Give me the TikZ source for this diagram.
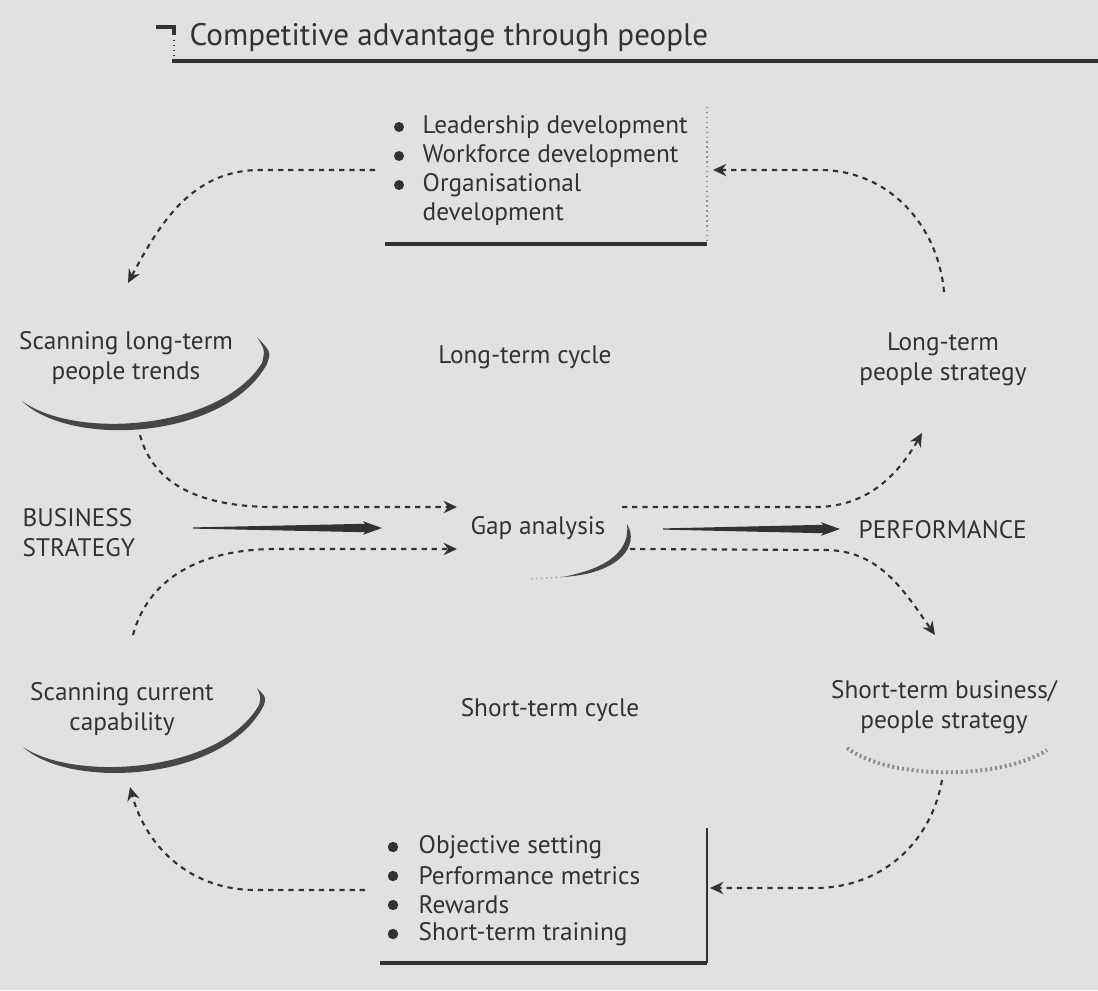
\documentclass[tikz,border=0pt]{standalone}
\usepackage{fontspec}
\setmainfont{PT Sans}
\usetikzlibrary{arrows.meta,calc}

\definecolor{paper}{RGB}{225,225,223}
\definecolor{ink}{RGB}{50,50,50}

\tikzset{
  label text/.style={font=\fontsize{7.2}{8.6}\selectfont, text=ink, align=center, inner sep=0pt},
  item/.style={label text, anchor=west},
  cycle line/.style={ink, line width=0.6pt, dash pattern=on 1.5pt off 1.4pt,
    -{Stealth[length=3.8pt,width=3.5pt]}},
}

% tapered arrow between two points on one level
\newcommand{\fatarrow}[2]{%
  \fill[ink] ($(#1)+(0,0.006)$) -- ($(#2)+(-0.17,0.042)$) -- ($(#2)+(-0.19,0.068)$)
    -- (#2) -- ($(#2)+(-0.19,-0.068)$) -- ($(#2)+(-0.17,-0.042)$)
    -- ($(#1)+(0,-0.006)$) -- cycle;}

\begin{document}
\begin{tikzpicture}
\fill[paper] (0,0) rectangle (10.98,-9.90);
\useasboundingbox (0,0) rectangle (10.98,-9.90);

% heading
\node[item, font=\fontsize{8.85}{10}\selectfont] (title) at (1.89,-0.38) {Competitive advantage through people};
\draw[ink, line width=1pt] (1.56,-0.27) -- (1.74,-0.27) -- (1.74,-0.35);
\draw[ink, densely dotted] (1.74,-0.40) -- (1.74,-0.56);
\draw[ink, line width=0.9pt] (1.72,-0.61) -- (10.98,-0.61);

% long-term actions
\foreach \y/\txt [count=\i] in {1.27/Leadership development, 1.56/Workforce development, 1.85/Organisational}{
  \fill[ink] (3.99,-\y) circle (0.05);
  \node[item] (lt\i) at (4.22,-\y) {\txt};
}
\node[item] (lt4) at (4.22,-2.14) {development};
\draw[ink, line width=1pt] (3.85,-2.44) -- (7.07,-2.44);
\draw[ink!55, densely dotted] (7.07,-1.07) -- (7.07,-2.42);

% short-term actions
\foreach \y/\txt [count=\i] in {8.47/Objective setting, 8.76/Performance metrics, 9.05/Rewards, 9.34/Short-term training}{
  \fill[ink] (3.93,-\y) circle (0.052);
  \node[item] (st\i) at (4.18,-\y) {\txt};
}
\draw[ink, line width=1pt] (3.80,-9.63) -- (7.07,-9.63);
\draw[ink, line width=0.7pt] (7.07,-9.63) -- (7.07,-8.28);

% stages of the two cycles
\node[label text] (scanlong) at (1.26,-3.58) {Scanning long-term\\people trends};
\node[label text] (longcycle) at (5.25,-3.57) {Long-term cycle};
\node[label text] (longstrat) at (9.43,-3.59) {Long-term\\people strategy};
\node[label text, align=left, anchor=west] (bizstrat) at (0.22,-5.33) {BUSINESS\\STRATEGY};
\node[label text] (gap) at (5.38,-5.28) {Gap analysis};
\node[item] (perf) at (8.58,-5.30) {PERFORMANCE};
\node[label text] (scancur) at (1.22,-7.09) {Scanning current\\capability};
\node[label text] (shortcycle) at (5.50,-7.10) {Short-term cycle};
\node[label text] (shortstrat) at (9.44,-7.07) {Short-term business/\\people strategy};

% brush strokes under the stages
\fill[ink!90] (0.22,-4.01) .. controls (0.70,-4.48) and (2.25,-4.40) .. (2.67,-3.64)
  .. controls (2.71,-3.52) .. (2.57,-3.37) .. controls (2.65,-3.50) .. (2.62,-3.63)
  .. controls (2.20,-4.30) and (0.75,-4.40) .. cycle;
\fill[ink!90] (0.23,-7.47) .. controls (0.70,-7.90) and (2.25,-7.82) .. (2.64,-7.05)
  .. controls (2.66,-6.97) .. (2.57,-6.88) .. controls (2.61,-6.97) .. (2.59,-7.05)
  .. controls (2.20,-7.73) and (0.75,-7.82) .. cycle;
\fill[ink!90] (6.27,-5.24) .. controls (6.40,-5.45) and (6.20,-5.74) .. (5.62,-5.77)
  .. controls (6.12,-5.68) and (6.30,-5.48) .. cycle;
\draw[ink!45, densely dotted] (5.62,-5.77) -- (5.28,-5.79);
\draw[ink!55, line width=1.1pt, dash pattern=on 0.6pt off 0.8pt]
  (8.47,-7.48) .. controls (8.9,-7.80) and (10.0,-7.80) .. (10.47,-7.50);

% connector ends
\coordinate (ltout) at (3.75,-1.70);
\coordinate (ltin) at (7.13,-1.70);
\coordinate (scanlongin) at (1.28,-2.83);
\coordinate (scanlongout) at (1.40,-4.35);
\coordinate (longstratin) at (9.22,-4.33);
\coordinate (longstratout) at (9.44,-2.92);
\coordinate (gapinup) at (4.57,-5.07);
\coordinate (gapinlow) at (4.57,-5.49);
\coordinate (gapoutup) at (6.22,-5.07);
\coordinate (gapoutlow) at (6.30,-5.49);
\coordinate (scancurin) at (1.30,-7.87);
\coordinate (scancurout) at (1.33,-6.35);
\coordinate (shortstratin) at (9.35,-6.35);
\coordinate (shortstratout) at (9.42,-7.80);
\coordinate (stin) at (7.10,-8.88);
\coordinate (stout) at (3.65,-8.90);
\coordinate (bizout) at (1.93,-5.28);
\coordinate (gapin) at (3.82,-5.28);
\coordinate (gapout) at (6.63,-5.29);
\coordinate (perfin) at (8.40,-5.29);

% long-term cycle
\draw[cycle line] (ltout) -- (2.60,-1.70) to[out=180,in=62] (scanlongin);
\draw[cycle line] (scanlongout) to[out=-75,in=180] (2.75,-5.07) -- (gapinup);
\draw[cycle line] (gapoutup) -- (8.15,-5.07) to[out=0,in=240] (longstratin);
\draw[cycle line] (longstratout) to[out=95,in=0] (8.20,-1.70) -- (ltin);

% short-term cycle
\draw[cycle line] (scancurout) to[out=75,in=180] (2.75,-5.49) -- (gapinlow);
\draw[cycle line] (gapoutlow) -- (8.25,-5.50) to[out=0,in=125] (shortstratin);
\draw[cycle line] (shortstratout) to[out=-100,in=0] (8.15,-8.88) -- (stin);
\draw[cycle line] (stout) -- (2.55,-8.90) to[out=180,in=-75] (scancurin);

% strategy in, performance out
\fatarrow{bizout}{gapin}
\fatarrow{gapout}{perfin}
\end{tikzpicture}
\end{document}
